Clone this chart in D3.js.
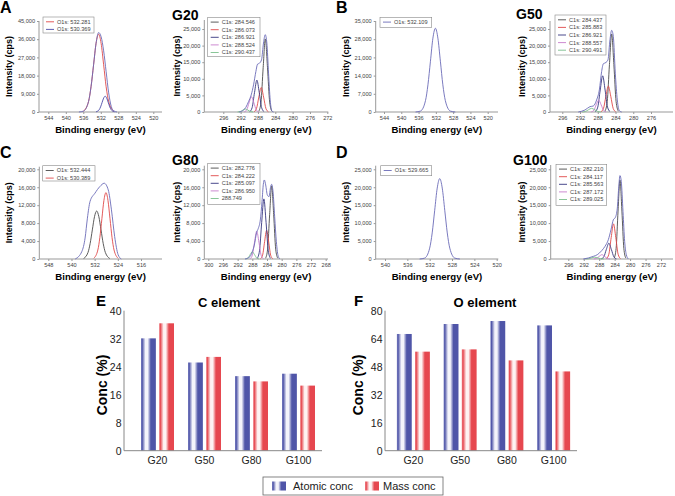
<!DOCTYPE html>
<html>
<head>
<meta charset="utf-8">
<script src="https://cdn.jsdelivr.net/npm/d3@7"></script>
<style>
  body { margin: 0; background: #fff; }
  svg { display: block; font-family: Arial, "Liberation Sans", sans-serif; }
</style>
</head>
<body>
<script>
// ---- spectra: [binding energy (eV), intensity (cps)] ----
const aRed  = [[529.05,430],[530.2,5200],[530.78,12500],[531.35,23350],[531.93,33980],[532.5,38500],[533.08,33980],[533.65,23350],[534.23,12500],[534.8,5200],[535.95,430]];
const aBlue = [[528.9,90],[529.6,1055],[529.95,2530],[530.3,4730],[530.65,6880],[531,7800],[531.35,6880],[531.7,4730],[532.05,2530],[532.4,1055],[533.1,90]];
const aEnv  = [[528.3,0],[529.05,600],[529.6,2680],[530.2,9460],[530.78,19930],[531.35,30230],[531.93,37210],[532.5,39290],[533.08,34000],[533.65,23350],[534.23,12500],[534.8,5200],[535.95,430],[537,0]];

const g20Gray  = [[284.8,240],[285.3,2980],[285.8,13350],[286.3,22000],[286.8,13350],[287.3,2980],[287.8,240]];
const g20Red   = [[285.6,80],[286.15,1000],[286.7,4490],[287.25,7400],[287.8,4490],[288.35,1000],[288.9,80]];
const g20Navy  = [[286.6,105],[287.15,1300],[287.7,5830],[288.25,9600],[288.8,5830],[289.35,1300],[289.9,105]];
const g20Pink  = [[287.85,50],[288.4,620],[288.95,2790],[289.5,4600],[290.05,2790],[290.6,620],[291.15,50]];
const g20Green = [[289.1,10],[289.7,120],[290.3,550],[290.9,900],[291.5,550],[292.1,120],[292.7,10]];
const g20Env   = [[292.33,0],[291.33,605],[290.79,1410],[290.18,3120],[289.56,5140],[289.02,8170],[288.48,12200],[288.1,14410],[287.64,14720],[287.18,15730],[286.72,20770],[286.33,23290],[285.95,20770],[285.56,11690],[285.18,3630],[284.79,300],[284.41,0]];

const bCurve = [[527.5,0],[528.65,360],[529.8,4360],[530.38,10460],[530.95,19530],[531.53,28420],[532.1,32200],[532.68,28420],[533.25,19530],[533.83,10460],[534.4,4360],[535.55,360],[536.7,0]];

const g50Gray  = [[283.37,260],[283.87,3170],[284.37,14260],[284.87,23500],[285.37,14260],[285.87,3170],[286.37,260]];
const g50Red   = [[283.97,85],[284.52,1050],[285.07,4730],[285.62,7800],[286.17,4730],[286.72,1050],[287.27,85]];
const g50Navy  = [[285.25,120],[285.8,1470],[286.35,6620],[286.9,10900],[287.45,6620],[288.0,1470],[288.55,120]];
const g50Pink  = [[286.15,40],[286.7,490],[287.25,2190],[287.8,3600],[288.35,2190],[288.9,490],[289.45,40]];
const g50Green = [[287.3,12],[288.0,150],[288.7,670],[289.4,1100],[290.1,670],[290.8,150],[291.5,12]];
const g50Env   = [[292.39,0],[290.89,605],[289.76,1610],[289.01,1810],[288.26,3630],[287.65,6650],[287.13,12200],[286.75,14520],[286.15,14920],[285.7,15720],[285.25,21770],[284.87,24600],[284.5,22780],[284.05,11690],[283.6,3630],[283.14,400],[282.62,0]];

const cGray = [[526.8,120],[528.3,1450],[529.05,3470],[529.8,6490],[530.55,9440],[531.3,10700],[532.05,9440],[532.8,6490],[533.55,3470],[534.3,1450],[535.8,120]];
const cRed  = [[523.9,160],[525.3,2000],[526.0,4810],[526.7,8980],[527.4,13060],[528.1,14800],[528.8,13060],[529.5,8980],[530.2,4810],[530.9,2000],[532.3,160]];
const cEnv  = [[522.8,0],[523.9,960],[525.1,5040],[526.2,10960],[527.3,15410],[528.7,16890],[530.2,16150],[531.9,14670],[533.6,12810],[534.5,9110],[535.3,4670],[536.4,1700],[538.7,0]];

const g80Gray  = [[281.08,180],[281.63,2200],[282.18,9890],[282.73,16300],[283.28,9890],[283.83,2200],[284.38,180]];
const g80Red   = [[282.45,70],[283.0,860],[283.55,3880],[284.1,6400],[284.65,3880],[285.2,860],[285.75,70]];
const g80Navy  = [[283.05,150],[283.65,1810],[284.25,8130],[284.85,13400],[285.45,8130],[286.05,1810],[286.65,150]];
const g80Pink  = [[285.0,70],[285.6,840],[286.2,3760],[286.8,6200],[287.4,3760],[288.0,840],[288.6,70]];
const g80Green = [[286.2,18],[286.8,220],[287.4,970],[288,1600],[288.6,970],[289.2,220],[289.8,18]];
const g80Env   = [[290,0],[288.64,520],[288,1640],[287.45,3120],[286.82,5950],[286.36,6840],[285.82,8700],[285.36,12790],[285,16650],[284.73,17620],[284.36,16510],[283.91,14280],[283.45,13900],[283,16130],[282.73,16650],[282.36,15020],[281.91,9440],[281.45,3870],[280.91,520],[280.45,0]];

const dCurve = [[526.6,0],[527.5,250],[528.4,3030],[528.85,7270],[529.3,13590],[529.75,19770],[530.2,22400],[530.65,19770],[531.1,13590],[531.55,7270],[532.0,3030],[532.9,250],[533.8,0]];

const g100Gray  = [[281.12,240],[281.62,2970],[282.12,13350],[282.62,22000],[283.12,13350],[283.62,2970],[284.12,240]];
const g100Red   = [[282.5,110],[283.1,1320],[283.7,5950],[284.3,9800],[284.9,5950],[285.5,1320],[286.1,110]];
const g100Navy  = [[283.55,50],[284.2,600],[284.85,2670],[285.5,4400],[286.15,2670],[286.8,600],[287.45,50]];
const g100Pink  = [[285.2,13],[285.9,160],[286.6,730],[287.3,1200],[288,730],[288.7,160],[289.4,13]];
const g100Green = [[286.8,6],[287.6,70],[288.4,300],[289.2,500],[290,300],[290.8,70],[291.6,6]];
const g100Env   = [[292.11,0],[290.82,280],[289.52,740],[288.49,1200],[287.36,2320],[286.5,3520],[285.64,5370],[284.95,8150],[284.34,10930],[283.82,11580],[283.31,14170],[282.96,19720],[282.62,23240],[282.28,21580],[281.84,13240],[281.41,4910],[280.98,1200],[280.46,0]];

// legend labels
const aLabels    = ["O1s: 532.281", "O1s: 530.369"];
const g20Labels  = ["C1s: 284.546", "C1s: 286.073", "C1s: 286.921", "C1s: 288.524", "C1s: 290.437"];
const bLabels    = ["O1s: 532.109"];
const g50Labels  = ["C1s: 284.437", "C1s: 285.883", "C1s: 286.921", "C1s: 288.557", "C1s: 290.491"];
const cLabels    = ["O1s: 532.444", "O1s: 530.389"];
const g80Labels  = ["C1s: 282.776", "C1s: 284.222", "C1s: 285.097", "C1s: 286.950", "288.749"];
const dLabels    = ["O1s: 529.665"];
const g100Labels = ["C1s: 282.210", "C1s: 284.117", "C1s: 285.563", "C1s: 287.172", "C1s: 289.025"];

// tick values
const oXTicks    = [544, 540, 536, 532, 528, 524, 520];
const aYTicks    = [0, 9000, 18000, 27000, 36000, 45000];
const bYTicks    = [0, 7000, 14000, 21000, 28000, 35000];
const cXTicks    = [548, 540, 532, 524, 516];
const dXTicks    = [540, 536, 532, 528, 524, 520];
const gXTicks    = [296, 292, 288, 284, 280, 276, 272];
const g50XTicks  = [296, 292, 288, 284, 280, 276];
const g80XTicks  = [300, 296, 292, 288, 284, 280, 276, 272, 268];
const y25Ticks   = [0, 5000, 10000, 15000, 20000, 25000];
const y20Ticks   = [0, 4000, 8000, 12000, 16000, 20000];

// bar charts (E, F)
const barCats    = ["G20", "G50", "G80", "G100"];
const cAtomic    = [32.1, 25.2, 21.3, 22.0];
const cMass      = [36.4, 26.8, 19.8, 18.6];
const oAtomic    = [66.7, 72.4, 74.1, 71.6];
const oMass      = [56.6, 57.9, 51.6, 45.3];
const cBarTicks  = [0, 8, 16, 24, 32, 40];
const oBarTicks  = [0, 16, 32, 48, 64, 80];
const barSeries  = ["Atomic conc", "Mass conc"];

// colours
const colEnv = "#6b6bb8", colGray = "#4a4a4a", colRed = "#e04848", colNavy = "#35357f",
      colPink = "#c77dcc", colGreen = "#7cbf8c", colBlue = "#4a4aa8";

const svg = d3.select("body").append("svg")
    .attr("width", 675)
    .attr("height", 496);

// gradients for the bars (dark edge, pale stripe, dark right half)
const defs = svg.append("defs");
function addGradient(id, dark, mid, light) {
    const g = defs.append("linearGradient").attr("id", id)
        .attr("x1", "0").attr("x2", "1").attr("y1", "0").attr("y2", "0");
    [[0, mid], [0.08, dark], [0.3, light], [0.45, light], [0.66, dark], [1, dark]].forEach(s => {
        g.append("stop").attr("offset", s[0]).attr("stop-color", s[1]);
    });
}
addGradient("gradBlue", "#4f55a8", "#7d82c2", "#f4f4fb");
addGradient("gradRed", "#e6474f", "#ef8a90", "#fef3f3");

function drawSpectrum(p) {
    const x = d3.scaleLinear()
        .domain([p.xTicks[0], p.xTicks[p.xTicks.length - 1]])
        .range(p.xPx);
    const y = d3.scaleLinear()
        .domain([0, p.yTicks[p.yTicks.length - 1]])
        .range([p.bottom, p.tickTop]);

    // panel letter / title
    svg.append("text")
        .attr("x", p.lx).attr("y", p.ly)
        .attr("font-size", p.lsize).attr("font-weight", "bold")
        .text(p.letter);

    // axes
    const gx = svg.append("g")
        .attr("transform", `translate(0,${p.bottom})`)
        .call(d3.axisBottom(x).tickValues(p.xTicks).tickSize(2).tickPadding(2));
    const gy = svg.append("g")
        .attr("transform", `translate(${p.x0},0)`)
        .call(d3.axisLeft(y).tickValues(p.yTicks).tickSize(2).tickPadding(2).tickFormat(d3.format(",")));
    [gx, gy].forEach(g => {
        g.select(".domain").remove();
        g.selectAll("line").attr("stroke", "#999");
        g.selectAll("text").attr("font-size", 5.6).attr("fill", "#444").attr("font-family", null);
    });
    svg.append("line")
        .attr("x1", p.x0).attr("x2", p.x1).attr("y1", p.bottom).attr("y2", p.bottom)
        .attr("stroke", "#999");
    svg.append("line")
        .attr("x1", p.x0).attr("x2", p.x0).attr("y1", p.bottom).attr("y2", p.axisTop)
        .attr("stroke", "#999");

    // curves
    const line = d3.line()
        .x(d => x(d[0]))
        .y(d => y(d[1]))
        .curve(d3.curveMonotoneX);
    p.curves.forEach(c => {
        const pts = c.data.slice().sort((a, b) => b[0] - a[0]);
        svg.append("path")
            .attr("d", line(pts))
            .attr("fill", "none")
            .attr("stroke", c.color)
            .attr("stroke-width", 0.9);
    });

    // legend
    const lg = svg.append("g").attr("transform", `translate(${p.legend.x},${p.legend.y})`);
    lg.append("rect")
        .attr("width", p.legend.w).attr("height", p.legend.h)
        .attr("fill", "#fff").attr("stroke", "#888").attr("stroke-width", 0.6);
    p.legend.labels.forEach((t, i) => {
        const yy = 4.8 + i * 7.6;
        lg.append("line")
            .attr("x1", 3).attr("x2", 11).attr("y1", yy).attr("y2", yy)
            .attr("stroke", p.legend.colors[i]).attr("stroke-width", 0.9);
        lg.append("text")
            .attr("x", 14).attr("y", yy).attr("dy", "0.35em")
            .attr("font-size", 5.6).attr("fill", "#444")
            .text(t);
    });

    // axis titles
    svg.append("text")
        .attr("transform", `translate(${p.ylabX},${(p.bottom + p.axisTop) / 2}) rotate(-90)`)
        .attr("text-anchor", "middle").attr("dy", "0.35em")
        .attr("font-size", 9).attr("font-weight", "bold")
        .text("Intensity (cps)");
    svg.append("text")
        .attr("x", (p.x0 + p.x1) / 2).attr("y", p.bottom + 20.5)
        .attr("text-anchor", "middle")
        .attr("font-size", 9.6).attr("font-weight", "bold")
        .text("Binding energy (eV)");
}

const compColors = [colGray, colRed, colNavy, colPink, colGreen];

const panels = [
    { letter: "A", lx: 0, ly: 13, lsize: 16, xTicks: oXTicks, xPx: [48.3, 153.3], x0: 39, x1: 162,
      yTicks: aYTicks, bottom: 112, tickTop: 21, axisTop: 21, ylabX: 9,
      curves: [{data: aRed, color: colRed}, {data: aBlue, color: colBlue}, {data: aEnv, color: colEnv}],
      legend: {x: 43, y: 17, w: 51, h: 16, labels: aLabels, colors: [colRed, colBlue]} },
    { letter: "G20", lx: 172, ly: 20, lsize: 14, xTicks: gXTicks, xPx: [223.3, 327.3], x0: 204.3, x1: 328.3,
      yTicks: y25Ticks, bottom: 112, tickTop: 29, axisTop: 20, ylabX: 176.5,
      curves: [g20Gray, g20Red, g20Navy, g20Pink, g20Green].map((d, i) => ({data: d, color: compColors[i]}))
          .concat([{data: g20Env, color: colEnv}]),
      legend: {x: 207.7, y: 17.3, w: 52.3, h: 39.4, labels: g20Labels, colors: compColors} },
    { letter: "B", lx: 336, ly: 13, lsize: 16, xTicks: oXTicks, xPx: [384, 487.7], x0: 375.7, x1: 498,
      yTicks: bYTicks, bottom: 112, tickTop: 21, axisTop: 21, ylabX: 346,
      curves: [{data: bCurve, color: colEnv}],
      legend: {x: 380, y: 17.3, w: 51.7, h: 10, labels: bLabels, colors: [colEnv]} },
    { letter: "G50", lx: 516, ly: 19, lsize: 14, xTicks: g50XTicks, xPx: [562.3, 651], x0: 550, x1: 673,
      yTicks: y25Ticks, bottom: 112, tickTop: 29, axisTop: 21, ylabX: 522,
      curves: [g50Gray, g50Red, g50Navy, g50Pink, g50Green].map((d, i) => ({data: d, color: compColors[i]}))
          .concat([{data: g50Env, color: colEnv}]),
      legend: {x: 555, y: 15, w: 51, h: 40, labels: g50Labels, colors: compColors} },
    { letter: "C", lx: 0, ly: 158, lsize: 16, xTicks: cXTicks, xPx: [48.3, 141], x0: 39.3, x1: 162,
      yTicks: y20Ticks, bottom: 259, tickTop: 169.3, axisTop: 166.7, ylabX: 9,
      curves: [{data: cGray, color: colGray}, {data: cRed, color: colRed}, {data: cEnv, color: colEnv}],
      legend: {x: 42.7, y: 165.7, w: 52.3, h: 15.3, labels: cLabels, colors: [colGray, colRed]} },
    { letter: "G80", lx: 172, ly: 165, lsize: 14, xTicks: g80XTicks, xPx: [208.3, 325.7], x0: 204.3, x1: 328,
      yTicks: y20Ticks, bottom: 259, tickTop: 169.3, axisTop: 165.7, ylabX: 176.5,
      curves: [g80Gray, g80Red, g80Navy, g80Pink, g80Green].map((d, i) => ({data: d, color: compColors[i]}))
          .concat([{data: g80Env, color: colEnv}]),
      legend: {x: 207.7, y: 163.3, w: 52.3, h: 41, labels: g80Labels, colors: compColors} },
    { letter: "D", lx: 336, ly: 158, lsize: 16, xTicks: dXTicks, xPx: [385, 496.7], x0: 375.7, x1: 498.3,
      yTicks: y25Ticks, bottom: 259, tickTop: 169.3, axisTop: 165.7, ylabX: 346,
      curves: [{data: dCurve, color: colEnv}],
      legend: {x: 380.7, y: 165.7, w: 51, h: 10, labels: dLabels, colors: [colEnv]} },
    { letter: "G100", lx: 513, ly: 165, lsize: 14, xTicks: gXTicks, xPx: [568.3, 661], x0: 550.7, x1: 673,
      yTicks: y25Ticks, bottom: 259, tickTop: 169.3, axisTop: 165, ylabX: 522,
      curves: [g100Gray, g100Red, g100Navy, g100Pink, g100Green].map((d, i) => ({data: d, color: compColors[i]}))
          .concat([{data: g100Env, color: colEnv}]),
      legend: {x: 556, y: 164.3, w: 50.7, h: 41, labels: g100Labels, colors: compColors} }
];
panels.forEach(drawSpectrum);

function drawBars(p) {
    const x = d3.scaleBand().domain(barCats).range(p.band);
    const sub = d3.scaleBand().domain(barSeries).range([-16.5, 16.5]).paddingInner(0.18);
    const y = d3.scaleLinear()
        .domain([0, p.ticks[p.ticks.length - 1]])
        .range([450.7, 310.7]);

    const rows = barCats.map((c, i) => ({cat: c, vals: [p.atomic[i], p.mass[i]]}));
    const groups = svg.selectAll(null).data(rows).enter().append("g")
        .attr("transform", d => `translate(${x(d.cat) + x.bandwidth() / 2},0)`);
    groups.selectAll("rect")
        .data(d => d.vals.map((v, j) => ({s: barSeries[j], v: v})))
        .enter().append("rect")
        .attr("x", d => sub(d.s))
        .attr("width", sub.bandwidth())
        .attr("y", d => y(d.v))
        .attr("height", d => y(0) - y(d.v))
        .attr("fill", d => d.s === "Atomic conc" ? "url(#gradBlue)" : "url(#gradRed)");

    const gy = svg.append("g")
        .attr("transform", `translate(${p.x0},0)`)
        .call(d3.axisLeft(y).tickValues(p.ticks).tickSize(0).tickPadding(2.5));
    const gx = svg.append("g")
        .attr("transform", `translate(0,450.7)`)
        .call(d3.axisBottom(x).tickSize(0).tickPadding(6));
    [gx, gy].forEach(g => {
        g.select(".domain").remove();
        g.selectAll("text").attr("font-size", 10.5).attr("fill", "#222").attr("font-family", null);
    });
    svg.append("line").attr("x1", p.x0).attr("x2", p.x1).attr("y1", 450.7).attr("y2", 450.7).attr("stroke", "#888");
    svg.append("line").attr("x1", p.x0).attr("x2", p.x0).attr("y1", 450.7).attr("y2", 310.7).attr("stroke", "#888");

    svg.append("text").attr("x", p.lx).attr("y", 306)
        .attr("font-size", 15).attr("font-weight", "bold").text(p.letter);
    svg.append("text").attr("x", p.tx).attr("y", 307).attr("text-anchor", "middle")
        .attr("font-size", 13).attr("font-weight", "bold").text(p.title);
    svg.append("text")
        .attr("transform", `translate(${p.ylabX},385) rotate(-90)`)
        .attr("text-anchor", "middle").attr("dy", "0.3em")
        .attr("font-size", 14).attr("font-weight", "bold")
        .text("Conc (%)");
}

drawBars({letter: "E", lx: 96, title: "C element", tx: 229, atomic: cAtomic, mass: cMass, ticks: cBarTicks,
          x0: 124, x1: 322, band: [134, 322], ylabX: 102.5});
drawBars({letter: "F", lx: 354, title: "O element", tx: 485, atomic: oAtomic, mass: oMass, ticks: oBarTicks,
          x0: 385, x1: 577, band: [390, 577], ylabX: 358.5});

// shared legend
const leg = svg.append("g").attr("transform", "translate(263,477)");
leg.append("rect").attr("width", 180).attr("height", 18)
    .attr("fill", "#fff").attr("stroke", "#666").attr("stroke-width", 0.8);
const legItems = [{s: barSeries[0], fill: "url(#gradBlue)", sx: 9, tx: 30},
                  {s: barSeries[1], fill: "url(#gradRed)", sx: 102, tx: 120}];
legItems.forEach(it => {
    leg.append("rect").attr("x", it.sx).attr("y", 4.5).attr("width", 14).attr("height", 9).attr("fill", it.fill);
    leg.append("text").attr("x", it.tx).attr("y", 13).attr("font-size", 11).attr("fill", "#222").text(it.s);
});
</script>
</body>
</html>
